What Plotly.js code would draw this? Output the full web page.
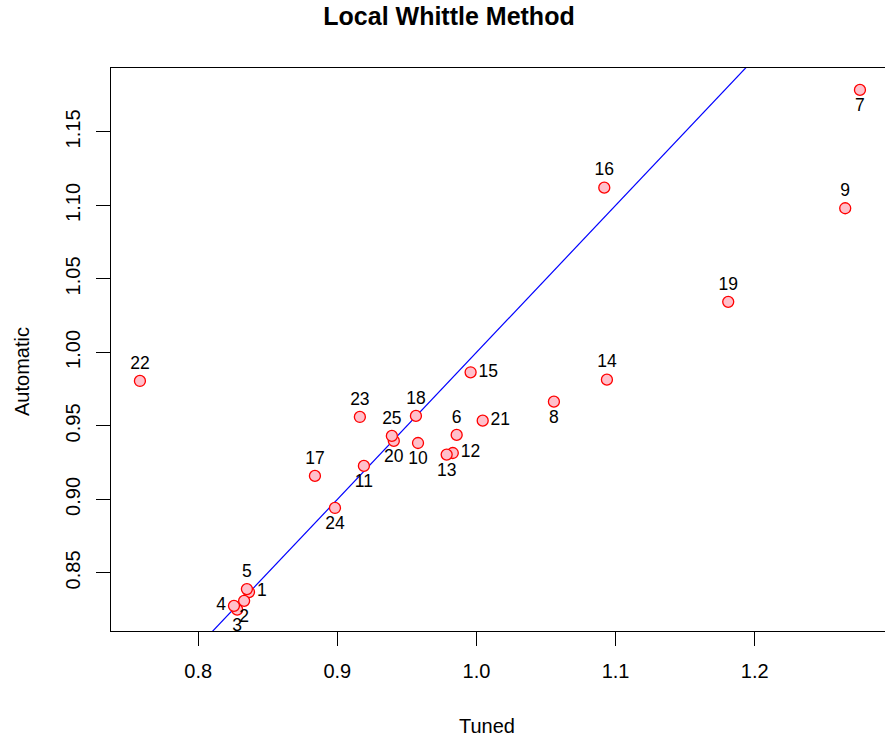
<!DOCTYPE html>
<html>
<head>
<meta charset="utf-8">
<script src="https://cdn.plot.ly/plotly-3.0.1.min.js"></script>
<style>html,body{margin:0;padding:0;background:#fff;}#chart{width:885px;height:740px;}</style>
</head>
<body>
<div id="chart"></div>
<script>
// Point identifiers
const labels = ["1","2","3","4","5","6","7","8","9","10","11","12","13","14","15","16","17","18","19","20","21","22","23","24","25"];
// Tuned estimates (x)
const tuned = [0.8365, 0.833, 0.828, 0.8257, 0.835, 0.9858, 1.2757, 1.0557, 1.2651, 0.958, 0.9191, 0.983, 0.9786, 1.0938, 0.9958, 1.0919, 0.8839, 0.9565, 1.181, 0.9406, 1.0045, 0.7581, 0.9162, 0.8983, 0.9392];
// Automatic estimates (y)
const automatic = [0.837, 0.831, 0.825, 0.8276, 0.839, 0.9439, 1.1786, 0.9665, 1.0981, 0.9384, 0.9228, 0.9316, 0.9305, 0.9815, 0.9865, 1.1121, 0.916, 0.9568, 1.0344, 0.9398, 0.9536, 0.9806, 0.9561, 0.8942, 0.9432];
// Label placement side for each point
const labelSide = ["right","below","below","left","above","above","below","below","above","below","below","right","below","above","right","above","above","above","above","below","right","above","above","below","above"];
// Reference line y = x
const refLineX = [0.6, 1.4];
const refLineY = [0.6, 1.4];

const sideToPos = {above: "top center", below: "bottom center", left: "middle left", right: "middle right"};
const FONT = "'Liberation Sans', Arial, Helvetica, sans-serif";

const traces = [
  {
    x: refLineX, y: refLineY, mode: "lines", type: "scatter",
    line: {color: "#0000ff", width: 1.2}, hoverinfo: "skip", showlegend: false
  },
  {
    x: tuned, y: automatic, mode: "markers+text", type: "scatter",
    text: labels, textposition: labelSide.map(s => sideToPos[s]),
    textfont: {family: FONT, size: 17.5, color: "#000"},
    marker: {symbol: "circle", size: 11, color: "#ffc0cb", line: {color: "#ff0000", width: 1.3}},
    cliponaxis: false, showlegend: false
  }
];

const axisCommon = {
  showgrid: false, zeroline: false, showline: true, mirror: true,
  linecolor: "#000", linewidth: 1, ticks: "outside", ticklen: 14, tickwidth: 1, tickcolor: "#000",
  tickfont: {family: FONT, size: 20, color: "#000"}
};

const layout = {
  width: 885, height: 740,
  margin: {l: 111, r: 0, t: 68, b: 109, pad: 0},
  paper_bgcolor: "#fff", plot_bgcolor: "#fff",
  showlegend: false,
  title: {
    text: "<b>Local Whittle Method</b>",
    font: {family: FONT, size: 25, color: "#000"},
    x: 449 / 885, xref: "container", xanchor: "center",
    y: 0.978, yref: "container", yanchor: "middle"
  },
  xaxis: Object.assign({}, axisCommon, {
    range: [0.7373, 1.2937],
    tickvals: [0.8, 0.9, 1.0, 1.1, 1.2],
    ticktext: ["0.8", "0.9", "1.0", "1.1", "1.2"],
    ticklabelstandoff: 8
  }),
  yaxis: Object.assign({}, axisCommon, {
    range: [0.8105, 1.1935],
    tickvals: [0.85, 0.90, 0.95, 1.00, 1.05, 1.10, 1.15],
    ticktext: ["0.85", "0.90", "0.95", "1.00", "1.05", "1.10", "1.15"],
    tickangle: -90,
    ticklabelstandoff: 8
  }),
  annotations: [
    {text: "Tuned", xref: "paper", yref: "paper", x: (487 - 111) / 774, y: -(726 - 631) / 563,
     xanchor: "center", yanchor: "middle", showarrow: false, font: {family: FONT, size: 20, color: "#000"}},
    {text: "Automatic", xref: "paper", yref: "paper", x: -(111 - 22) / 774, y: (631 - 372) / 563,
     xanchor: "center", yanchor: "middle", textangle: -90, showarrow: false, font: {family: FONT, size: 20, color: "#000"}}
  ]
};

Plotly.newPlot("chart", traces, layout, {displayModeBar: false, staticPlot: true});
</script>
</body>
</html>
